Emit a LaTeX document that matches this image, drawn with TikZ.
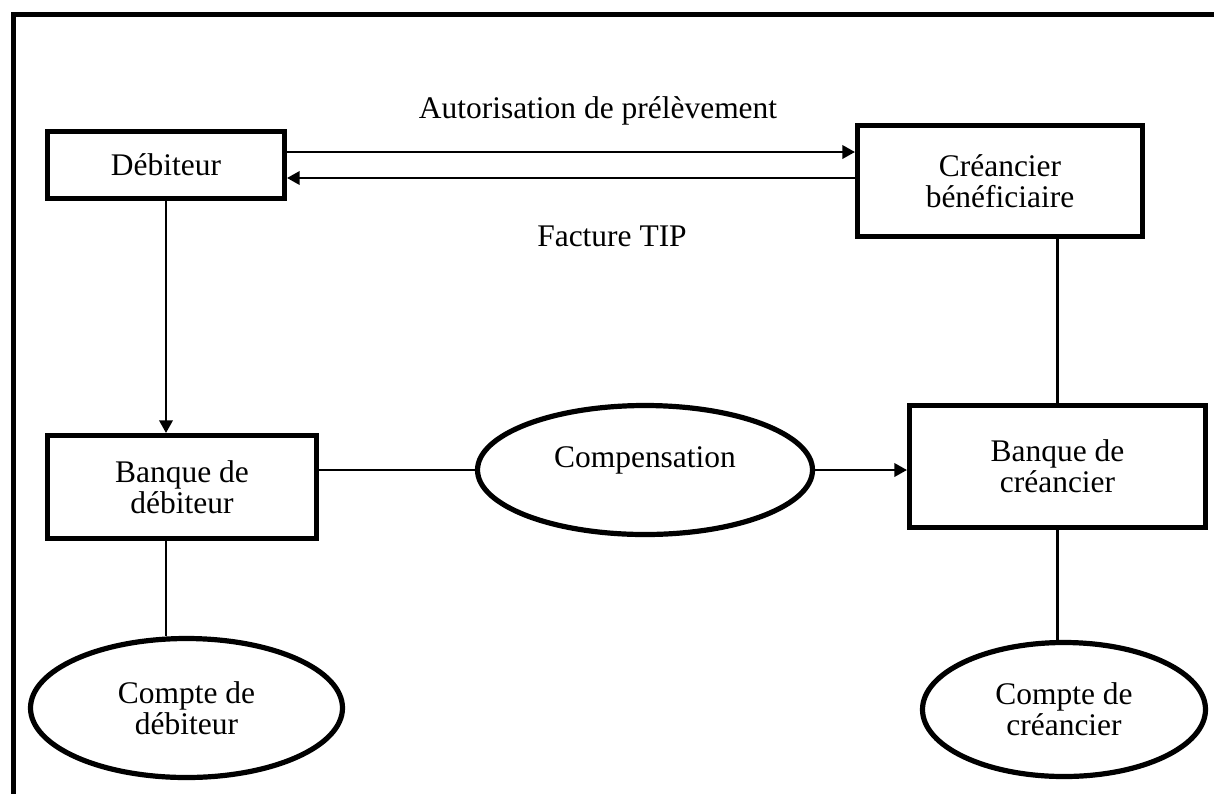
\documentclass[tikz,border=0pt]{standalone}
\usepackage{fontspec}
\setmainfont{Liberation Serif}
\usetikzlibrary{arrows.meta,shapes.geometric}

\tikzset{
  txt/.style={font=\fontsize{23.6pt}{23.3pt}\selectfont, align=center, inner sep=0pt},
  box/.style={txt, draw, line width=3.75pt, line join=miter, rectangle},
  ell/.style={txt, draw, line width=3.9pt, ellipse},
  link/.style={line width=1.9pt},
  arr/.style={link, -{Triangle[length=9.5pt,width=10pt]}},
}

\begin{document}
\begin{tikzpicture}[x=0.75pt,y=-0.75pt]
  \useasboundingbox (0,0) rectangle (1214,794);

  % outer frame (top and left sides only)
  \draw[line width=3.75pt, line join=miter] (1214,14.8) -- (13.3,14.8) -- (13.3,794);

  % parties
  \node[box, minimum width=177.75pt, minimum height=50.25pt] (deb) at (166,165) {Débiteur};
  \node[box, minimum width=213.75pt, minimum height=83.25pt] (cb) at (1000,181) {Créancier\\bénéficiaire};

  % banks
  \node[box, minimum width=201.75pt, minimum height=77.25pt] (bd) at (182,487) {Banque de\\débiteur};
  \node[box, minimum width=222pt, minimum height=91.5pt] (bc) at (1057.5,466.5) {Banque de\\créancier};

  % clearing
  \node[ell, minimum width=251.25pt, minimum height=96.75pt,
        label={[txt, name=comptext, yshift=7.5pt]center:Compensation}] (comp) at (645,470) {};

  % accounts
  \node[ell, minimum width=234pt, minimum height=104.25pt] (cd) at (186.5,708) {Compte de\\débiteur};
  \node[ell, minimum width=212.25pt, minimum height=100.5pt] (cc) at (1064,709.5) {Compte de\\créancier};

  % flows between debtor and creditor
  \draw[arr] ([yshift=9.75pt]deb.east) -- ([yshift=9.75pt]deb.east -| cb.west);
  \draw[arr] ([yshift=-9.75pt]deb.east -| cb.west) -- ([yshift=-9.75pt]deb.east);
  \node[txt] (auth) at (598,111) {Autorisation de prélèvement};
  \node[txt] (tip) at (612,236) {Facture TIP};

  % debtor side
  \draw[arr] (deb.south) -- (deb.south |- bd.north);
  \draw[link] (deb.south |- bd.south) -- (deb.south |- cd.north);
  \draw[link] (comp.west -| bd.east) -- (comp.west);

  % creditor side
  \draw[arr] (comp.east) -- (comp.east -| bc.west);
  \draw[link] (bc.north) -- (bc.north |- cb.south);
  \draw[link] (bc.south) -- (bc.south |- cc.north);
\end{tikzpicture}
\end{document}
